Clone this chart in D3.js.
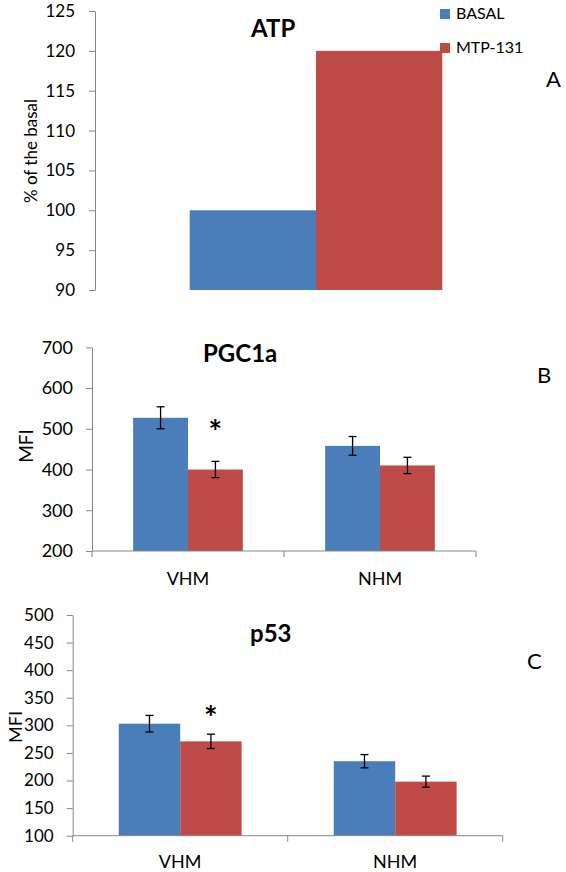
<!DOCTYPE html>
<html>
<head>
<meta charset="utf-8">
<script src="https://cdn.jsdelivr.net/npm/d3@7"></script>
<style>
  html, body { margin: 0; padding: 0; background: #fff; }
  svg { display: block; font-family: "Lato", "Open Sans", sans-serif; }
</style>
</head>
<body>
<svg id="chart" width="566" height="872"></svg>
<script>
// ---------- data ----------
const seriesNames = ["BASAL", "MTP-131"];
const seriesColors = ["#4A7EBB", "#BE4B48"];

// Panel A: ATP (% of the basal)
const atpCategories = ["ATP"];
const atpBasal = [100];
const atpMtp = [120];
const atpTicks = [90, 95, 100, 105, 110, 115, 120, 125];

// Panel B: PGC1a (MFI)
const groups = ["VHM", "NHM"];
const pgcBasal = [527, 458];
const pgcBasalErr = [27, 23];
const pgcMtp = [400, 410];
const pgcMtpErr = [20, 20];
const pgcTicks = [200, 300, 400, 500, 600, 700];

// Panel C: p53 (MFI)
const p53Basal = [303, 235];
const p53BasalErr = [15, 12];
const p53Mtp = [271, 198];
const p53MtpErr = [13, 10];
const p53Ticks = [100, 150, 200, 250, 300, 350, 400, 450, 500];

// significance markers (group index, series index)
const pgcStars = [{ g: 0, s: 1 }];
const p53Stars = [{ g: 0, s: 1 }];

// ---------- drawing ----------
const svg = d3.select("#chart");
const axisColor = "#868686";

function panel(cfg) {
  const g = svg.append("g");
  const y = d3.scaleLinear().domain(cfg.yDomain).range([cfg.bottom, cfg.top]);
  const x0 = d3.scaleBand().domain(cfg.categories).range([cfg.left, cfg.right]).padding(0);
  const bw = x0.bandwidth();
  const x1 = d3.scaleBand().domain(seriesNames)
    .range([bw * 0.75 / 3.5, bw * 2.75 / 3.5]).padding(0);

  const rows = [];
  cfg.categories.forEach((c, i) => {
    seriesNames.forEach((s, j) => {
      rows.push({ cat: c, gi: i, series: s, si: j,
        value: cfg.values[j][i],
        err: cfg.errors ? cfg.errors[j][i] : null });
    });
  });

  // bars
  g.selectAll("rect.bar").data(rows).join("rect")
    .attr("class", "bar")
    .attr("x", d => x0(d.cat) + x1(d.series))
    .attr("width", x1.bandwidth())
    .attr("y", d => y(d.value))
    .attr("height", d => y(cfg.yDomain[0]) - y(d.value))
    .attr("fill", d => seriesColors[d.si]);

  // error bars
  if (cfg.errors) {
    const eb = g.selectAll("g.err").data(rows).join("g").attr("class", "err")
      .attr("stroke", "#000").attr("stroke-width", 1.3);
    const cx = d => x0(d.cat) + x1(d.series) + x1.bandwidth() / 2;
    eb.append("line").attr("x1", cx).attr("x2", cx)
      .attr("y1", d => y(d.value + d.err)).attr("y2", d => y(d.value - d.err));
    eb.append("line").attr("x1", d => cx(d) - 4).attr("x2", d => cx(d) + 4)
      .attr("y1", d => y(d.value + d.err)).attr("y2", d => y(d.value + d.err));
    eb.append("line").attr("x1", d => cx(d) - 4).attr("x2", d => cx(d) + 4)
      .attr("y1", d => y(d.value - d.err)).attr("y2", d => y(d.value - d.err));
  }

  // y axis
  const ya = g.append("g").attr("transform", `translate(${cfg.left},0)`)
    .call(d3.axisLeft(y).tickValues(cfg.yTicks).tickSize(6).tickSizeOuter(0).tickPadding(cfg.tickPad));
  ya.select(".domain").attr("stroke", axisColor);
  ya.selectAll(".tick line").attr("stroke", axisColor);
  ya.selectAll(".tick text").attr("fill", "#000")
    .style("font-size", cfg.tickFont + "px").style("font-family", "Lato");

  // x axis
  if (cfg.xAxis) {
    const base = y(cfg.yDomain[0]);
    g.append("line").attr("x1", cfg.left).attr("x2", cfg.right)
      .attr("y1", base).attr("y2", base).attr("stroke", axisColor);
    const bounds = cfg.categories.map(c => x0(c)).concat([cfg.right]);
    g.selectAll("line.xt").data(bounds).join("line").attr("class", "xt")
      .attr("x1", d => d).attr("x2", d => d)
      .attr("y1", base).attr("y2", base + 6).attr("stroke", axisColor);
    g.selectAll("text.xl").data(cfg.categories).join("text").attr("class", "xl")
      .attr("x", d => x0(d) + bw / 2).attr("y", cfg.xLabelY)
      .attr("text-anchor", "middle").style("font-size", cfg.xFont + "px")
      .text(d => d);
  }

  // stars
  (cfg.stars || []).forEach(st => {
    const c = cfg.categories[st.g], s = seriesNames[st.s];
    g.append("text")
      .attr("x", x0(c) + x1(s) + x1.bandwidth() / 2)
      .attr("y", cfg.starY)
      .attr("text-anchor", "middle")
      .style("font-size", "32px").style("font-weight", "bold")
      .text("*");
  });

  // title
  g.append("text").attr("x", cfg.titleX).attr("y", cfg.titleY)
    .style("font-size", cfg.titleFont + "px").style("font-weight", "bold")
    .text(cfg.title);

  // y label
  g.append("text")
    .attr("transform", `translate(${cfg.yLabelX},${cfg.yLabelY}) rotate(-90)`)
    .attr("text-anchor", "middle")
    .style("font-size", cfg.yLabelFont + "px")
    .text(cfg.yLabel);

  // panel letter
  g.append("text").attr("x", cfg.letterX).attr("y", cfg.letterY)
    .style("font-size", "22px").text(cfg.letter);
}

panel({
  categories: atpCategories, values: [atpBasal, atpMtp], errors: null,
  yDomain: [90, 125], yTicks: atpTicks, top: 11, bottom: 290, left: 95, right: 537,
  tickFont: 17, tickPad: 14, xAxis: false,
  title: "ATP", titleX: 251, titleY: 37, titleFont: 24,
  yLabel: "% of the basal", yLabelX: 37, yLabelY: 151, yLabelFont: 17,
  letter: "A", letterX: 546, letterY: 87
});

panel({
  categories: groups, values: [pgcBasal, pgcMtp], errors: [pgcBasalErr, pgcMtpErr],
  yDomain: [200, 700], yTicks: pgcTicks, top: 347.3, bottom: 551, left: 92, right: 476,
  tickFont: 18, tickPad: 13, xAxis: true, xLabelY: 585, xFont: 18,
  stars: pgcStars, starY: 444,
  title: "PGC1a", titleX: 203, titleY: 362, titleFont: 24,
  yLabel: "MFI", yLabelX: 33, yLabelY: 446, yLabelFont: 19,
  letter: "B", letterX: 537, letterY: 383
});

panel({
  categories: groups, values: [p53Basal, p53Mtp], errors: [p53BasalErr, p53MtpErr],
  yDomain: [100, 500], yTicks: p53Ticks, top: 615, bottom: 835.7, left: 72.7, right: 502.7,
  tickFont: 17, tickPad: 13, xAxis: true, xLabelY: 868, xFont: 18,
  stars: p53Stars, starY: 730,
  title: "p53", titleX: 250, titleY: 642, titleFont: 24,
  yLabel: "MFI", yLabelX: 22, yLabelY: 727, yLabelFont: 18,
  letter: "C", letterX: 527, letterY: 669
});

// legend (panel A)
const legend = svg.append("g");
seriesNames.forEach((s, i) => {
  const ly = [9, 43][i];
  legend.append("rect").attr("x", 440).attr("y", ly).attr("width", 10).attr("height", 10)
    .attr("fill", seriesColors[i]);
  legend.append("text").attr("x", 456).attr("y", ly + 9.5)
    .style("font-size", "16px").text(s);
});
</script>
</body>
</html>
